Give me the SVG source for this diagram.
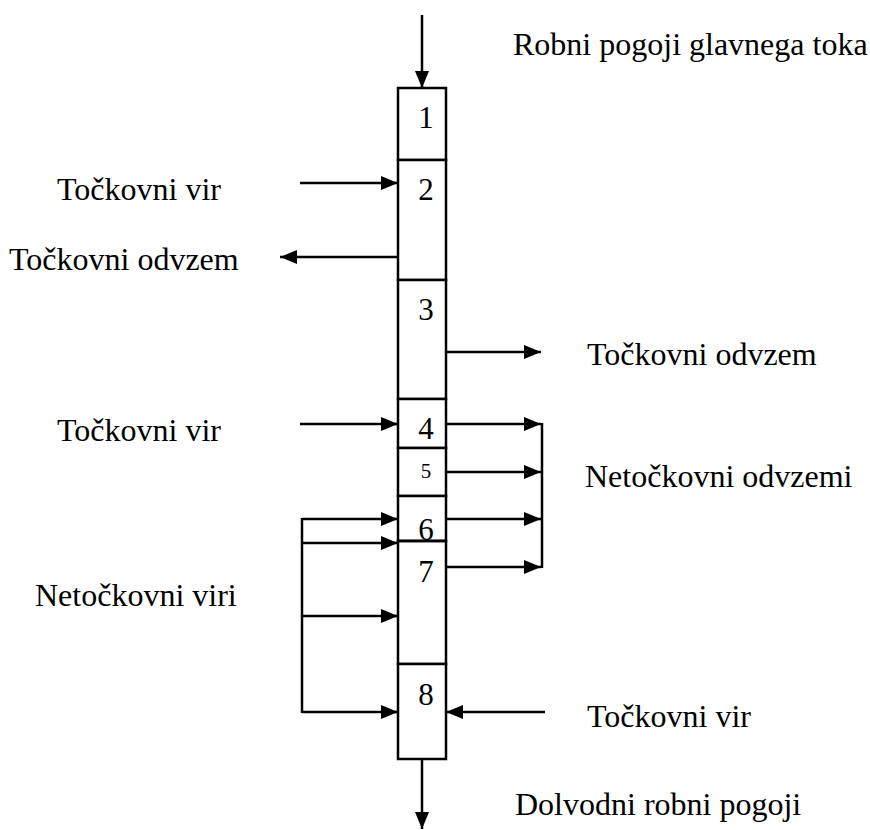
<svg xmlns="http://www.w3.org/2000/svg" width="870" height="830" viewBox="0 0 870 830">
<style>
text{font-family:'Liberation Serif','Times New Roman',serif;fill:#000}
.t{font-size:32px}
.n{font-size:31px;text-anchor:middle}
.s{font-size:21px}
.b{fill:#fff;stroke:#000;stroke-width:2.5}
.c{fill:none;stroke:#000;stroke-width:2.5}
.a{marker-end:url(#ah)}
</style>
<defs>
<marker id="ah" markerWidth="17" markerHeight="14" refX="17" refY="7" orient="auto" markerUnits="userSpaceOnUse">
<path d="M0,0 L17,7 L0,14 Z" fill="#000"/>
</marker>
</defs>
<g id="column">
<g id="cell1"><rect class="b" x="398" y="88" width="48" height="72"/><text class="n" x="426" y="128">1</text></g>
<g id="cell2"><rect class="b" x="398" y="160" width="48" height="120"/><text class="n" x="426" y="200">2</text></g>
<g id="cell3"><rect class="b" x="398" y="280" width="48" height="119"/><text class="n" x="426" y="320">3</text></g>
<g id="cell4"><rect class="b" x="398" y="399" width="48" height="49"/><text class="n" x="426" y="439">4</text></g>
<g id="cell5"><rect class="b" x="398" y="448" width="48" height="48"/><text class="n s" x="426" y="478">5</text></g>
<g id="cell6"><rect class="b" x="398" y="496" width="48" height="45"/><text class="n" x="426" y="540">6</text></g>
<g id="cell7"><rect class="b" x="398" y="541" width="48" height="123"/><text class="n" x="426" y="582">7</text></g>
<g id="cell8"><rect class="b" x="398" y="664" width="48" height="95"/><text class="n" x="426" y="705">8</text></g>
<line x1="398" y1="541" x2="446" y2="541" stroke="#000" stroke-width="2.5"/>
</g>
<g id="connectors">
<line class="c a" x1="422" y1="15" x2="422" y2="88"/>
<line class="c a" x1="422" y1="759" x2="422" y2="829"/>
<line class="c a" x1="300" y1="183" x2="398" y2="183"/>
<line class="c a" x1="398" y1="257" x2="280" y2="257"/>
<line class="c a" x1="446" y1="352" x2="541" y2="352"/>
<line class="c a" x1="300" y1="424" x2="398" y2="424"/>
<line class="c a" x1="446" y1="424" x2="541" y2="424"/>
<line class="c a" x1="446" y1="472" x2="541" y2="472"/>
<line class="c a" x1="446" y1="519" x2="541" y2="519"/>
<line class="c a" x1="446" y1="567" x2="541" y2="567"/>
<line class="c" x1="542" y1="423" x2="542" y2="568"/>
<line class="c" x1="302" y1="518" x2="302" y2="713"/>
<line class="c a" x1="302" y1="519" x2="398" y2="519"/>
<line class="c a" x1="302" y1="543" x2="398" y2="543"/>
<line class="c a" x1="302" y1="616" x2="398" y2="616"/>
<line class="c a" x1="302" y1="712" x2="398" y2="712"/>
<line class="c a" x1="545" y1="712" x2="446" y2="712"/>
</g>
<g id="labels">
<text class="t" x="513" y="55">Robni pogoji glavnega toka</text>
<text class="t" x="57" y="200">Točkovni vir</text>
<text class="t" x="9" y="270">Točkovni odvzem</text>
<text class="t" x="587" y="365">Točkovni odvzem</text>
<text class="t" x="57" y="441">Točkovni vir</text>
<text class="t" x="585" y="487">Netočkovni odvzemi</text>
<text class="t" x="35" y="606">Netočkovni viri</text>
<text class="t" x="587" y="727">Točkovni vir</text>
<text class="t" x="515" y="815">Dolvodni robni pogoji</text>
</g>
</svg>
